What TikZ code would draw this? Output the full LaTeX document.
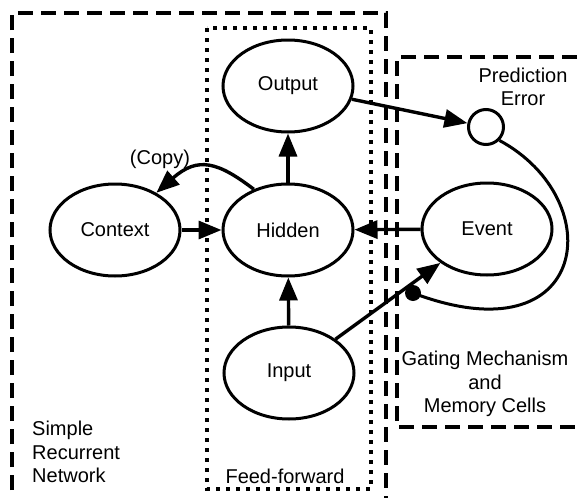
\documentclass[tikz,border=0pt]{standalone}
\usepackage{fontspec}
\setmainfont{Liberation Sans}
\usetikzlibrary{arrows.meta,shapes.geometric}
\begin{document}
\begin{tikzpicture}[x=1pt,y=-1pt,
  unit/.style={ellipse,draw,line width=3pt,minimum width=130pt,minimum height=92pt,inner sep=0pt,font=\fontsize{20}{23}\selectfont},
  lbl/.style={font=\fontsize{20}{23.5}\selectfont,inner sep=0pt,align=center},
  conn/.style={line width=3.4pt,-{Triangle[length=23pt,width=18pt]}},
  plain/.style={line width=3pt},
  bigdash/.style={line width=3.6pt,dash pattern=on 15pt off 8pt},
  dotbox/.style={line width=3.2pt,dash pattern=on 4pt off 6pt}]
\useasboundingbox (0,0) rectangle (579,498);
% boxes
\draw[bigdash] (12,513) -- (12,13) -- (386,13) -- (386,513);
\draw[dotbox] (207,28) rectangle (371,489);
\draw[bigdash] (600,57) -- (397,57) -- (397,427) -- (600,427);
% nodes
\node[unit] (out) at (288,86) {Output};
\node[unit] (hid) at (288,230) {Hidden};
\node[unit] (ctx) at (115,230) {Context};
\node[unit] (evt) at (487,229) {Event};
\node[unit] (inp) at (289,373) {Input};
\node[circle,draw,line width=3pt,minimum size=35pt,inner sep=0pt] (err) at (486,127) {};
\node[circle,fill,inner sep=0pt,minimum size=16pt] (gate) at (413,293) {};
% labels
\node[lbl] (perr) at (523,87) {Prediction\\Error};
\node[lbl] (copy) at (160,159) {(Copy)};
\node[lbl,align=left,anchor=west] (srn) at (32,452) {Simple\\Recurrent\\Network};
\node[lbl] (ff) at (285,476) {Feed-forward};
\node[lbl] (gmc) at (485,384) {Gating Mechanism\\and\\Memory Cells};
% connectors
\draw[conn] (hid) -- (out);
\draw[conn] (inp) -- (hid);
\draw[conn] (ctx) -- (hid);
\draw[conn] (evt) -- (hid);
\draw[conn] (out) -- (err);
\draw[conn] (inp) -- (evt);
\draw[conn] (hid.130) .. controls (218,162) and (198,156) .. (ctx.42);
\draw[plain] (err.-45) .. controls (610,200) and (590,360) .. (gate.center);
\end{tikzpicture}
\end{document}
